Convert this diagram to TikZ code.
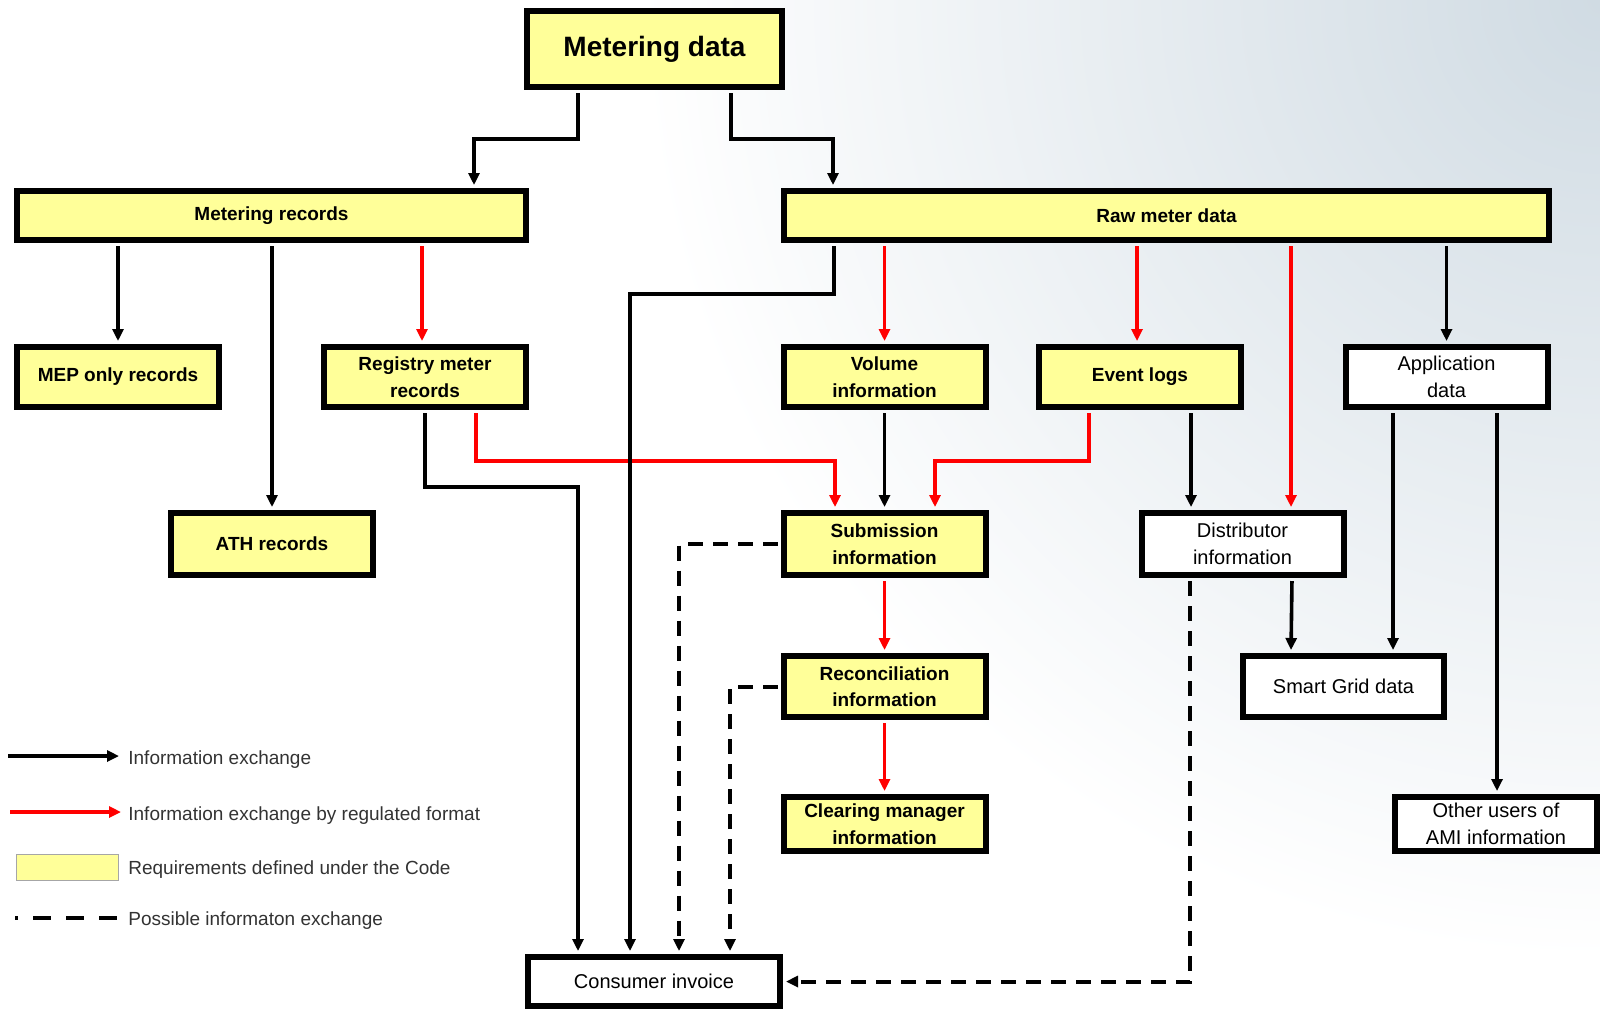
\documentclass[tikz,border=0pt]{standalone}
\usepackage{fontspec}
\setmainfont{Liberation Sans}
\usetikzlibrary{arrows.meta}
\definecolor{codeyellow}{RGB}{255,255,153}
\definecolor{regred}{RGB}{255,0,0}
\definecolor{bgblue}{RGB}{208,219,227}
\definecolor{legendgray}{RGB}{51,51,51}
\tikzset{
  databox/.style={draw, line width=3pt, inner sep=0pt, align=center, minimum width=101pt, minimum height=30pt},
  codebox/.style={databox, fill=codeyellow, font=\bfseries\fontsize{9.5}{13.3}\selectfont},
  otherbox/.style={databox, fill=white, font=\fontsize{10}{13.3}\selectfont},
  flow/.style={line width=1.8pt, shorten <=1.5pt, shorten >=1.5pt, -{Triangle[length=6pt,width=5.5pt]}},
  regflow/.style={flow, draw=regred},
  maybeflow/.style={flow, line width=2pt, dash pattern=on 7.5pt off 5pt},
  legendtext/.style={anchor=west, inner sep=0pt, text=legendgray, font=\fontsize{9.5}{11}\selectfont}
}
\begin{document}
\begin{tikzpicture}[x=0.5pt, y=-0.5pt]
  \useasboundingbox (0,0) rectangle (1600,1009);
  \fill[white] (0,0) rectangle (1600,1009);
  \begin{scope}
    \clip (0,0) rectangle (1600,1009);
    \shade[inner color=bgblue, outer color=white] (1600,0) circle (480pt);
  \end{scope}

  % boxes
  \node[codebox, minimum width=127.5pt, minimum height=38pt, font=\bfseries\fontsize{14}{16}\selectfont] (md) at (654.5,49) {Metering data};
  \node[codebox, minimum width=254.5pt, minimum height=24.5pt] (mr) at (271.5,215.5) {Metering records};
  \node[codebox, minimum width=382.5pt, minimum height=24.5pt] (raw) at (1166.5,215.5) {Raw meter data};
  \node[codebox] (mep) at (118,377) {MEP only records};
  \node[codebox] (reg) at (425,377) {Registry meter\\records};
  \node[codebox] (vol) at (884.5,377) {Volume\\information};
  \node[codebox] (evt) at (1140,377) {Event logs};
  \node[otherbox] (app) at (1446.5,377) {Application\\data};
  \node[codebox, minimum height=31pt] (ath) at (272,544) {ATH records};
  \node[codebox, minimum height=31pt] (sub) at (884.5,544) {Submission\\information};
  \node[otherbox, minimum height=31pt] (dist) at (1242.5,544) {Distributor\\information};
  \node[codebox, minimum height=30.5pt] (rec) at (884.5,686.5) {Reconciliation\\information};
  \node[otherbox, minimum width=100.5pt, minimum height=30.5pt] (sg) at (1343.5,686.5) {Smart Grid data};
  \node[codebox, minimum height=27pt] (cm) at (884.5,824) {Clearing manager\\information};
  \node[otherbox, minimum height=27pt] (ou) at (1496,824) {Other users of\\AMI information};
  \node[otherbox, minimum width=126pt, minimum height=24.5pt] (ci) at (654,981.5) {Consumer invoice};

  % regulated format
  \draw[regflow] (422,0 |- mr.south) -- (422,0 |- reg.north);
  \draw[regflow] (vol.north |- raw.south) -- (vol.north);
  \draw[regflow] (1137,0 |- raw.south) -- (1137,0 |- evt.north);
  \draw[regflow] (1291,0 |- raw.south) -- (1291,0 |- dist.north);
  \draw[regflow] (476,0 |- reg.south) |- (835,461) -- (835,0 |- sub.north);
  \draw[regflow] (1089,0 |- evt.south) |- (935,461) -- (935,0 |- sub.north);
  \draw[regflow] (sub.south) -- (rec.north);
  \draw[regflow] (rec.south) -- (cm.north);

  % information exchange
  \draw[flow] (578,0 |- md.south) |- (474,139) -- (474,0 |- mr.north);
  \draw[flow] (731,0 |- md.south) |- (833,139) -- (833,0 |- raw.north);
  \draw[flow] (mep.north |- mr.south) -- (mep.north);
  \draw[flow] (ath.north |- mr.south) -- (ath.north);
  \draw[flow] (app.north |- raw.south) -- (app.north);
  \draw[flow] (834,0 |- raw.south) |- (630,294) -- (630,0 |- ci.north);
  \draw[flow] (reg.south) |- (578,487) -- (578,0 |- ci.north);
  \draw[flow] (vol.south) -- (sub.north);
  \draw[flow] (1191,0 |- evt.south) -- (1191,0 |- dist.north);
  \draw[flow] (1393,0 |- app.south) -- (1393,0 |- sg.north);
  \draw[flow] (1497,0 |- app.south) -- (1497,0 |- ou.north);
  \draw[flow] (1292,0 |- dist.south) -- (1291,0 |- sg.north);

  % possible exchange
  \draw[maybeflow] (sub.west) -| (679,0 |- ci.north);
  \draw[maybeflow] (rec.west) -| (730,0 |- ci.north);
  \draw[maybeflow] (1190,0 |- dist.south) |- (ci.east);

  % legend
  \coordinate (k1a) at (8,756);
  \coordinate (k1b) at (119,756);
  \coordinate (k2a) at (10,812);
  \coordinate (k2b) at (121,812);
  \coordinate (k4a) at (15,918);
  \coordinate (k4b) at (117,918);
  \draw[flow, shorten <=0pt, shorten >=0pt] (k1a) -- (k1b);
  \draw[regflow, shorten <=0pt, shorten >=0pt] (k2a) -- (k2b);
  \node[draw=gray!70, line width=0.5pt, fill=codeyellow, minimum width=51pt, minimum height=13pt, inner sep=0pt] (k3box) at (67,867) {};
  \draw[line width=2pt, dash pattern=on 1.5pt off 7.5pt on 9pt off 7.5pt on 9pt off 7.5pt on 9pt off 7.5pt] (k4a) -- (k4b);
  \node[legendtext] (k1) at (128,760) {Information exchange};
  \node[legendtext] (k2) at (128,816) {Information exchange by regulated format};
  \node[legendtext] (k3) at (128,870) {Requirements defined under the Code};
  \node[legendtext] (k4) at (128,921) {Possible informaton exchange};
\end{tikzpicture}
\end{document}
